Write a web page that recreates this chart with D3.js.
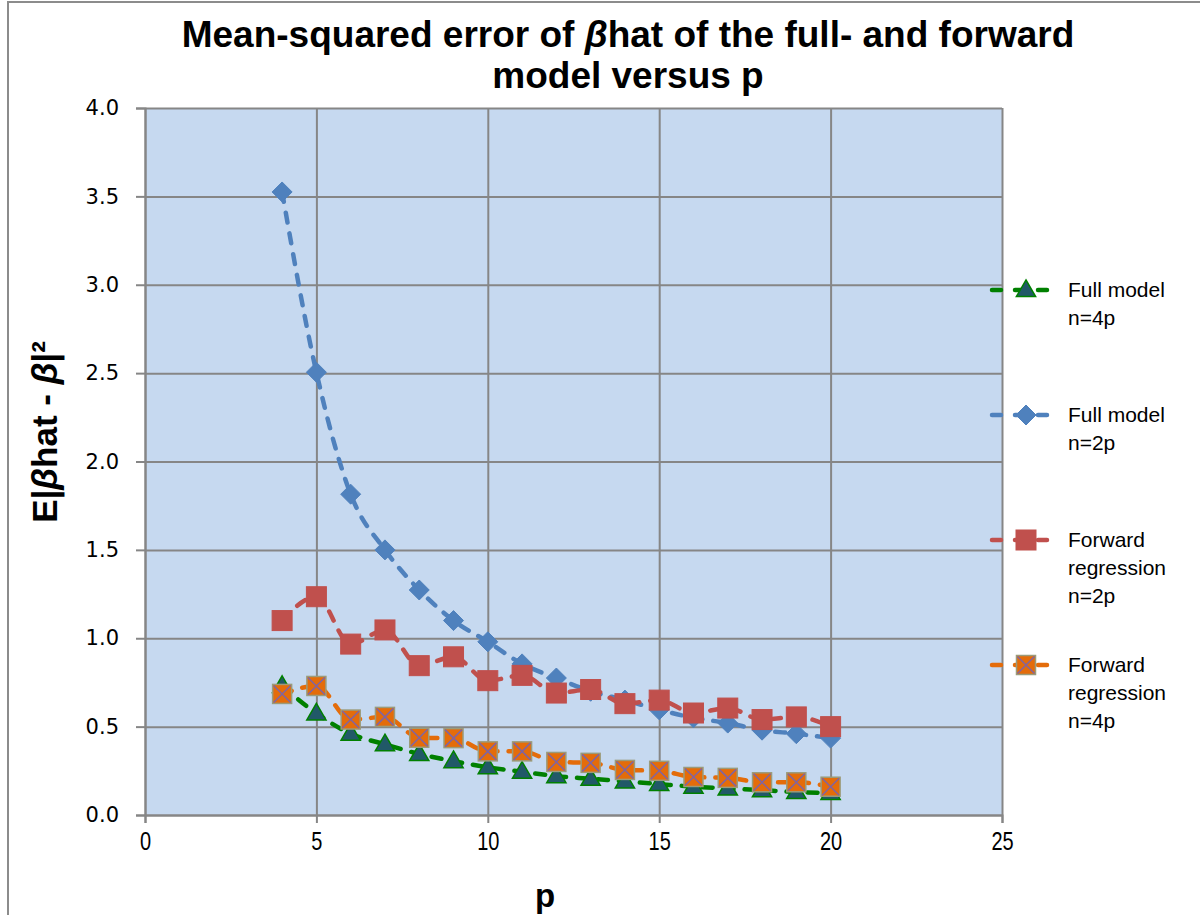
<!DOCTYPE html>
<html lang="en">
<head>
<meta charset="utf-8">
<title>MSE of beta hat</title>
<script src="https://d3js.org/d3.v7.min.js"></script>
<style>
  body { margin: 0; background: #fff; }
  svg text { font-family: "Liberation Sans", Arial, sans-serif; }
</style>
</head>
<body>
<script>
// p values, shared by all series
var pValues = [4, 5, 6, 7, 8, 9, 10, 11, 12, 13, 14, 15, 16, 17, 18, 19, 20];
var fullN4p = [0.73, 0.575, 0.46, 0.40, 0.345, 0.305, 0.27, 0.245, 0.22, 0.205, 0.19, 0.175, 0.16, 0.15, 0.14, 0.13, 0.125];
var fullN2p = [3.525, 2.505, 1.815, 1.50, 1.273, 1.10, 0.98, 0.855, 0.775, 0.70, 0.65, 0.595, 0.55, 0.52, 0.48, 0.46, 0.435];
var fwdN2p = [1.10, 1.235, 0.967, 1.047, 0.845, 0.895, 0.76, 0.79, 0.69, 0.71, 0.63, 0.65, 0.577, 0.605, 0.54, 0.555, 0.50];
var fwdN4p = [0.685, 0.73, 0.54, 0.555, 0.437, 0.435, 0.36, 0.36, 0.30, 0.295, 0.255, 0.25, 0.215, 0.21, 0.185, 0.185, 0.16];
var xTicks = [0, 5, 10, 15, 20, 25];
var yTicks = [0, 0.5, 1, 1.5, 2, 2.5, 3, 3.5, 4];

var w = 1200, h = 915;
var plotLeft = 145, plotRight = 1002, plotTop = 108, plotBottom = 815;

var svg = d3.select("body").append("svg")
  .attr("width", w).attr("height", h);

// outer chart border
svg.append("rect")
  .attr("x", 8).attr("y", 2).attr("width", w + 20).attr("height", h + 20)
  .attr("fill", "#fff").attr("stroke", "#8c8c8c").attr("stroke-width", 2);

var x = d3.scaleLinear().domain([0, 25]).range([plotLeft, plotRight]);
var y = d3.scaleLinear().domain([0, 4]).range([plotBottom, plotTop]);

// plot background
svg.append("rect")
  .attr("x", plotLeft).attr("y", plotTop)
  .attr("width", plotRight - plotLeft).attr("height", plotBottom - plotTop)
  .attr("fill", "#c6d9f0");

// gridlines
svg.append("g")
  .attr("class", "grid")
  .attr("transform", "translate(" + plotLeft + ",0)")
  .call(d3.axisLeft(y).tickValues(yTicks).tickFormat("").tickSize(-(plotRight - plotLeft)))
  .call(function(g) { g.select(".domain").remove(); })
  .selectAll("line").attr("stroke", "#868686").attr("stroke-width", 2);

svg.append("g")
  .attr("class", "grid")
  .attr("transform", "translate(0," + plotBottom + ")")
  .call(d3.axisBottom(x).tickValues(xTicks).tickFormat("").tickSize(-(plotBottom - plotTop)))
  .call(function(g) { g.select(".domain").remove(); })
  .selectAll("line").attr("stroke", "#868686").attr("stroke-width", 2);

// axes
var yAxis = svg.append("g")
  .attr("transform", "translate(" + plotLeft + ",0)")
  .call(d3.axisLeft(y).tickValues(yTicks).tickFormat(d3.format(".1f")).tickSize(9).tickPadding(17));
yAxis.selectAll("text")
  .style("font-family", "'DejaVu Sans', Verdana, sans-serif")
  .style("font-size", "21px").attr("fill", "#000");

var xAxis = svg.append("g")
  .attr("transform", "translate(0," + plotBottom + ")")
  .call(d3.axisBottom(x).tickValues(xTicks).tickSize(8).tickPadding(9));
xAxis.selectAll("text")
  .attr("transform", "scale(0.8,1)")
  .style("font-size", "25px").attr("fill", "#000");

[yAxis, xAxis].forEach(function(a) {
  a.selectAll("line, .domain").attr("stroke", "#868686").attr("stroke-width", 2);
});

// series definitions
var series = [
  { name: ["Full model", "n=4p"], values: fullN4p, line: "#008000", marker: "triangle", fill: "#215968", stroke: "#008000" },
  { name: ["Full model", "n=2p"], values: fullN2p, line: "#4f81bd", marker: "diamond", fill: "#4f81bd", stroke: "#4f81bd" },
  { name: ["Forward", "regression", "n=2p"], values: fwdN2p, line: "#c0504d", marker: "square", fill: "#c0504d", stroke: "#c0504d" },
  { name: ["Forward", "regression", "n=4p"], values: fwdN4p, line: "#e46c0a", marker: "xsquare", fill: "#e46c0a", stroke: "#9b9b7a" }
];

var line = d3.line()
  .x(function(d) { return x(d.p); })
  .y(function(d) { return y(d.v); });

function drawMarker(g, type, s) {
  if (type === "triangle") {
    g.append("path")
      .attr("d", d3.symbol().type(d3.symbolTriangle).size(160)())
      .attr("transform", "translate(0,1)")
      .attr("fill", s.fill).attr("stroke", s.stroke).attr("stroke-width", 1.5);
  } else if (type === "diamond") {
    g.append("path")
      .attr("d", "M0,-10L10,0L0,10L-10,0Z")
      .attr("fill", s.fill).attr("stroke", s.stroke).attr("stroke-width", 1);
  } else if (type === "square") {
    g.append("rect")
      .attr("x", -10).attr("y", -10).attr("width", 20).attr("height", 20)
      .attr("fill", s.fill).attr("stroke", s.stroke).attr("stroke-width", 1);
  } else {
    g.append("rect")
      .attr("x", -9.5).attr("y", -9.5).attr("width", 19).attr("height", 19)
      .attr("fill", s.fill).attr("stroke", s.stroke).attr("stroke-width", 1.5);
    g.append("path")
      .attr("d", "M-8.5,-8.5L8.5,8.5M8.5,-8.5L-8.5,8.5")
      .attr("stroke", "#8064a2").attr("stroke-width", 1.5);
  }
}

var plot = svg.append("g");

series.forEach(function(s) {
  var pts = pValues.map(function(p, i) { return { p: p, v: s.values[i] }; });
  var g = plot.append("g");
  g.append("path")
    .datum(pts)
    .attr("d", line.curve(d3.curveMonotoneX))
    .attr("fill", "none")
    .attr("stroke", s.line)
    .attr("stroke-width", 4.5)
    .attr("stroke-linecap", "round")
    .attr("stroke-dasharray", "10,11");
  g.selectAll(".m")
    .data(pts)
    .enter()
    .append("g")
    .attr("transform", function(d) { return "translate(" + x(d.p) + "," + y(d.v) + ")"; })
    .each(function() { drawMarker(d3.select(this), s.marker, s); });
});

// legend
var legendY = [290, 415, 540, 665];
series.forEach(function(s, i) {
  var lg = svg.append("g").attr("transform", "translate(990," + legendY[i] + ")");
  lg.append("line")
    .attr("x1", 2).attr("x2", 66).attr("y1", 0).attr("y2", 0)
    .attr("stroke", s.line).attr("stroke-width", 4.5)
    .attr("stroke-linecap", "round").attr("stroke-dasharray", "9,14");
  var mg = lg.append("g").attr("transform", "translate(36,0)");
  drawMarker(mg, s.marker, s);
  s.name.forEach(function(t, j) {
    lg.append("text")
      .attr("x", 78).attr("y", j * 28 + 7)
      .style("font-size", "21px")
      .text(t);
  });
});

// title
var title = svg.append("text")
  .attr("x", 628).attr("y", 47)
  .attr("text-anchor", "middle")
  .style("font-size", "37px").style("font-weight", "bold");
title.append("tspan").text("Mean-squared error of ");
title.append("tspan").style("font-style", "italic").text("β");
title.append("tspan").text("hat of the full- and forward");
svg.append("text")
  .attr("x", 628).attr("y", 88)
  .attr("text-anchor", "middle")
  .style("font-size", "37px").style("font-weight", "bold")
  .text("model versus p");

// y axis label
var yl = svg.append("text")
  .attr("transform", "translate(57,432) rotate(-90)")
  .attr("text-anchor", "middle")
  .style("font-size", "35px").style("font-weight", "bold");
yl.append("tspan").text("E|");
yl.append("tspan").style("font-style", "italic").text("β");
yl.append("tspan").text("hat - ");
yl.append("tspan").style("font-style", "italic").text("β");
yl.append("tspan").text("|²");

// x axis label
svg.append("text")
  .attr("x", 545).attr("y", 907)
  .attr("text-anchor", "middle")
  .style("font-size", "33px").style("font-weight", "bold")
  .text("p");
</script>
</body>
</html>
